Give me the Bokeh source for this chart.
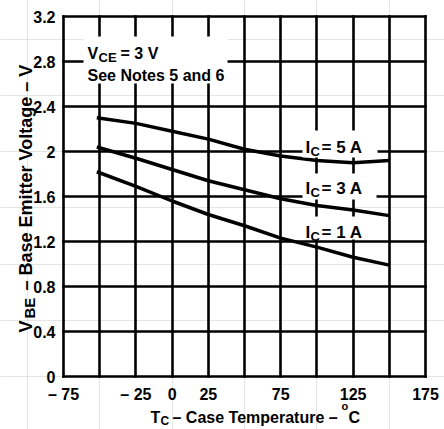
import math
from bokeh.plotting import figure
from bokeh.models import FixedTicker, Label, BoxAnnotation, Range1d, LinearAxis, Grid
from bokeh.embed import file_html
from bokeh.resources import INLINE

# ---- data ----
temps = [-52, -25, 0, 25, 50, 75, 100, 125, 150]
vbe_ic5 = [2.30, 2.25, 2.18, 2.11, 2.02, 1.96, 1.92, 1.90, 1.92]
vbe_ic3 = [2.04, 1.94, 1.84, 1.74, 1.66, 1.58, 1.52, 1.48, 1.43]
vbe_ic1 = [1.82, 1.69, 1.56, 1.44, 1.34, 1.23, 1.15, 1.06, 0.99]

x_ticks = [-75, -25, 0, 25, 75, 125, 175]
x_tick_labels = ["\u2013 75", "\u2013 25", "0", "25", "75", "125", "175"]
x_grid = [-75, -50, -25, 0, 25, 50, 75, 100, 125, 150, 175]
y_ticks = [0, 0.4, 0.8, 1.2, 1.6, 2, 2.4, 2.8, 3.2]
y_tick_labels = ["0", "0.4", "0.8", "1.2", "1.6", "2", "2.4", "2.8", "3.2"]

X0, X1 = -75, 175
Y0, Y1 = 0, 3.2

FONT = "Liberation Sans"
W, H = 444, 429
# chart box position on the canvas (pixels)
BL, BR, BT, BB = 63, 425, 16, 376
KX = (BR - BL) / (X1 - X0)
KY = (BB - BT) / (Y1 - Y0)


def dx(px):
    return X0 + (px - BL) / KX


def dy(py):
    return Y0 + (BB - py) / KY


# the plot frame covers the whole canvas so texts outside the box are not clipped
p = figure(width=W, height=H, output_backend="svg", toolbar_location=None,
           x_range=Range1d(dx(0), dx(W)), y_range=Range1d(dy(H), dy(0)),
           x_axis_location=None, y_axis_location=None,
           min_border=0, min_border_left=0, min_border_right=0,
           min_border_top=0, min_border_bottom=0)
p.background_fill_color = "white"
p.border_fill_color = "white"
p.outline_line_color = None

xax = LinearAxis(fixed_location=Y0, ticker=FixedTicker(ticks=x_ticks),
                 major_label_overrides=dict(zip(x_ticks, x_tick_labels)))
yax = LinearAxis(fixed_location=X0, ticker=FixedTicker(ticks=y_ticks),
                 major_label_overrides=dict(zip(y_ticks, y_tick_labels)))
for ax in (xax, yax):
    ax.axis_line_color = None
    ax.major_tick_line_color = None
    ax.minor_tick_line_color = None
    ax.major_tick_out = 0
    ax.major_tick_in = 0
    ax.major_label_text_font = FONT
    ax.major_label_text_font_style = "bold"
    ax.major_label_text_font_size = "16px"
    ax.major_label_text_color = "black"
xax.major_label_standoff = 9
yax.major_label_standoff = 8
p.add_layout(xax, "below")
p.add_layout(yax, "left")

vg = Grid(dimension=0, ticker=FixedTicker(ticks=x_grid), cross_bounds=(Y0, Y1))
hg = Grid(dimension=1, ticker=FixedTicker(ticks=y_ticks), cross_bounds=(X0, X1))
for g in (vg, hg):
    g.grid_line_color = "black"
    g.grid_line_width = 2.6
    g.grid_line_alpha = 1
    g.grid_line_cap = "square"
    p.add_layout(g)

for ys in (vbe_ic5, vbe_ic3, vbe_ic1):
    p.line(temps, ys, line_color="black", line_width=3.5)

# white boxes behind the annotation texts (pixel extents)
for l, r, t, b in [(83, 227, 36, 83),
                   (302, 377, 130, 157),
                   (302, 376, 173, 199),
                   (302, 376, 216, 239)]:
    p.add_layout(BoxAnnotation(left=dx(l), right=dx(r), top=dy(t), bottom=dy(b),
                               fill_color="white", fill_alpha=1,
                               line_color=None, line_alpha=0))


def lab(px, py, text, size=16, angle=0.0):
    p.add_layout(Label(x=dx(px), y=dy(py), text=text, text_font=FONT,
                       text_font_style="bold", text_font_size=f"{size}px",
                       text_color="black", text_baseline="alphabetic",
                       text_align="left", angle=angle))


# V_CE note
lab(87, 53, "V")
lab(98, 57, "CE", 13)
lab(120, 53, "=  3  V")
lab(87, 75, "See Notes 5 and 6")

# curve labels
for base, txt in [(147, "=  5  A"), (188, "=  3  A"), (232, "=  1  A")]:
    lab(305, base, "I", 17)
    lab(310, base + 4, "C", 13)
    lab(321, base, txt, 17)

# x axis title
lab(150, 417, "T")
lab(160, 420, "C", 12)
lab(172, 417, "\u2013 Case Temperature \u2013")
lab(341, 405, "o", 11)
lab(348, 417, "C")

# y axis title (rotated)
A = math.pi / 2
lab(25, 332, "V", 18, A)
lab(29, 318, "BE", 15, A)
lab(25, 290, "\u2013 Base Emitter Voltage \u2013 V", 18, A)

open("out.html", "w").write(file_html(p, INLINE))
